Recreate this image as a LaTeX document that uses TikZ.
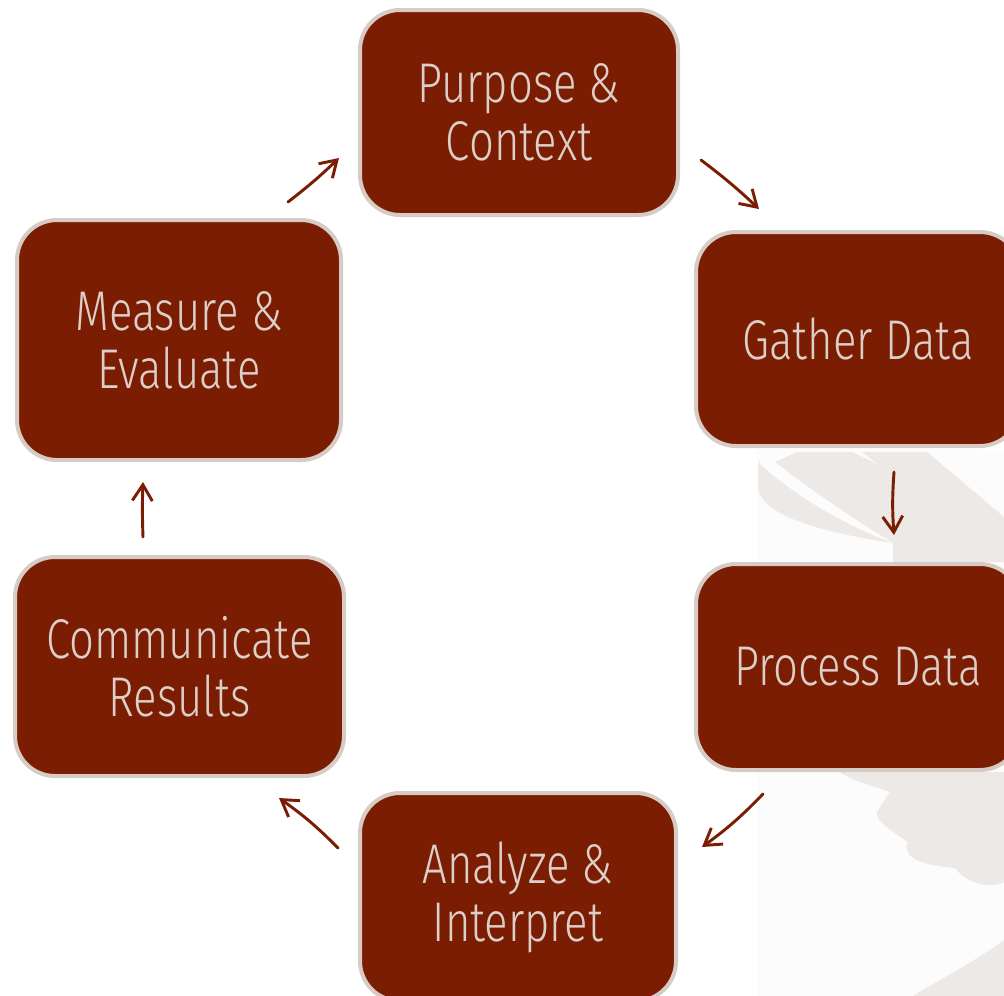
\documentclass[tikz,border=0pt]{standalone}
\usepackage{fontspec}
\setmainfont{Fira Sans Light}[FakeStretch=0.78]
\usetikzlibrary{arrows.meta}

\definecolor{boxfill}{RGB}{123,29,2}
\definecolor{boxline}{RGB}{214,204,197}
\definecolor{boxtext}{RGB}{220,207,200}
\definecolor{paper}{RGB}{252,252,252}
\definecolor{wmgray}{RGB}{236,233,230}

\begin{document}
\begin{tikzpicture}[x=0.75pt,y=-0.75pt,>={Straight Barb[length=12pt,width=15pt]},
  stage/.style={draw=boxline,line width=3pt,fill=boxfill,rounded corners=30pt,text=boxtext,
    align=center,inner sep=0pt,outer sep=0pt,font=\fontsize{42}{43.5}\selectfont},
  flow/.style={->,draw=boxfill,line width=2.2pt,line cap=round}]
\useasboundingbox (0,0) rectangle (1004,996);
\clip (0,0) rectangle (1004,996);

% faint watermark on the right
\fill[paper] (757,450) rectangle (1004,996);
\fill[wmgray] (758,467) -- (762,452) -- (927,452) -- (1004,517) -- (1004,562) -- (893,562) -- (893,543) .. controls (820,532) and (760,515) .. (758,487) -- cycle;
\fill[paper] (760,464) .. controls (800,500) and (850,527) .. (893,543) .. controls (852,518) and (808,488) .. (775,462) -- (797,452) -- (760,452) -- cycle;
\fill[paper] (852,452) .. controls (865,458) and (875,462) .. (882,468) .. controls (872,460) and (866,455) .. (862,452) -- cycle;
\fill[wmgray] (840,772) -- (1004,772) -- (1004,882) .. controls (990,890) and (965,882) .. (955,868) .. controls (930,866) and (900,860) .. (908,842) .. controls (890,830) and (875,820) .. (877,812) -- (890,792) .. controls (870,785) and (850,780) .. (840,772) -- cycle;
\fill[wmgray] (1004,940) .. controls (970,965) and (930,985) .. (913,996) -- (1004,996) -- cycle;

% the six stages
\node[stage,minimum width=238.5pt,minimum height=153.75pt] (pur) at (519,112.5) {Purpose \&\\Context};
\node[stage,minimum width=243pt,minimum height=160.5pt] (gat) at (858,339) {Gather Data};
\node[stage,minimum width=243pt,minimum height=154.5pt] (pro) at (858,667) {Process Data};
\node[stage,minimum width=237pt,minimum height=156pt] (ana) at (518,897) {Analyze \&\\Interpret};
\node[stage,minimum width=246.75pt,minimum height=164.25pt] (com) at (179.5,666.5) {Communicate\\Results};
\node[stage,minimum width=243pt,minimum height=180pt] (mea) at (179,340) {Measure \&\\Evaluate};

% arrows round the cycle
\draw[flow] ([shift={(23,-55)}]pur.south east) to[bend left=3] ([shift={(63,-23)}]gat.north west);
\draw[flow] ([shift={(36,26)}]gat.south) to[bend right=4] ([shift={(36,-29)}]pro.north);
\draw[flow] ([shift={(67,24)}]pro.south west) to[bend left=5] ([shift={(26,54)}]ana.north east);
\draw[flow] ([shift={(-22,55)}]ana.north west) to[bend right=5] ([shift={(-65,22)}]com.south east);
\draw[flow] ([shift={(-36.5,-20)}]com.north) to[bend left=2] ([shift={(-36,22)}]mea.south);
\draw[flow] ([shift={(-53,-18)}]mea.north east) to[bend right=3] ([shift={(-21,-57)}]pur.south west);
\end{tikzpicture}
\end{document}
